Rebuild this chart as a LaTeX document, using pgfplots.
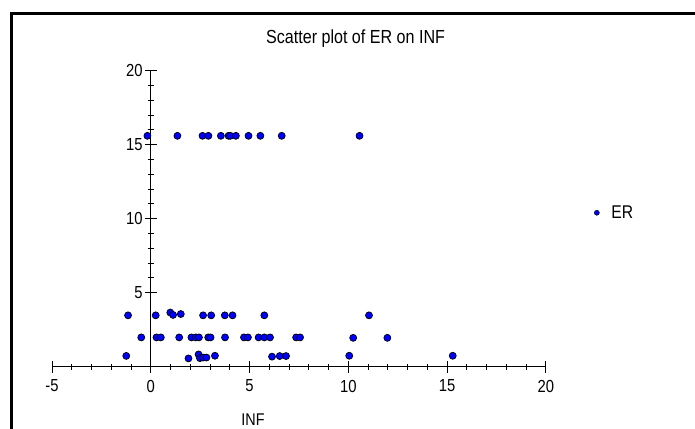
\documentclass[border=0pt]{standalone}
\usepackage{fontspec}
\setmainfont{Liberation Sans}[FakeStretch=0.85]
\usepackage{pgfplots}
\pgfplotsset{compat=1.18}

% ER against INF
\pgfplotstableread{
x y
-0.17 15.6
1.35 15.6
2.62 15.6
2.92 15.6
3.55 15.6
3.94 15.6
4.03 15.6
4.31 15.6
4.95 15.6
5.55 15.6
6.63 15.6
10.57 15.6
-1.15 3.47
0.25 3.47
0.99 3.66
1.13 3.50
1.52 3.56
2.65 3.47
3.06 3.47
3.75 3.47
4.14 3.47
5.75 3.47
11.05 3.47
-0.48 1.98
0.29 1.98
0.51 1.98
1.44 1.98
2.06 1.98
2.28 1.98
2.44 1.98
2.91 1.98
3.03 1.98
3.76 1.98
4.72 1.98
4.92 1.98
5.46 1.98
5.75 1.98
6.04 1.98
7.36 1.98
7.56 1.98
10.25 1.95
11.98 1.95
-1.24 0.73
1.91 0.56
2.42 0.83
2.49 0.58
2.65 0.62
2.82 0.62
3.25 0.74
6.14 0.68
6.53 0.72
6.85 0.72
10.05 0.74
15.29 0.74
}\erdata

\begin{document}
\begin{tikzpicture}[x=1bp,y=1bp]
\useasboundingbox (-52,-61.3) rectangle (643,366.7);
% outer frame (runs off the right and bottom edges)
\draw[line width=3bp] (-40.5,-80) -- (-40.5,353.7) -- (660,353.7);
\begin{axis}[
  at={(0,0)}, anchor=south west,
  x=19.75bp, y=14.8bp,
  xmin=-5, xmax=20, ymin=0, ymax=20,
  axis lines=middle,
  axis line style={line width=1.2bp, -},
  hide obscured x ticks=false,
  xtick={-5,0,...,20}, ytick={5,10,15,20},
  minor tick num=4,
  tick align=center,
  major tick length=12bp, minor tick length=6bp,
  every tick/.style={line width=1bp, black},
  /pgf/number format/assume math mode=true,
  tick label style={font=\fontsize{17.5}{17.5}\selectfont, inner sep=0pt},
  xticklabel style={anchor=north, yshift=-7bp},
  yticklabel style={anchor=east, xshift=-2bp},
  title={Scatter plot of ER on INF},
  title style={at={(axis cs:10.37,21.75)}, anchor=center, inner sep=0pt,
    font=\fontsize{19}{19}\selectfont},
  xlabel={INF},
  xlabel style={at={(axis cs:5.18,0)}, anchor=base, yshift=-58.5bp, inner sep=0pt,
    font=\fontsize{17}{17}\selectfont},
  legend style={at={(axis cs:22.45,10.4)}, anchor=west, draw=none, fill=none,
    inner sep=0pt, font=\fontsize{18.5}{18.5}\selectfont,
    nodes={inner sep=2bp}, column sep=10bp},
  legend image code/.code={
    \draw[mark size=2.5bp, mark=*, mark options={fill=blue, draw=black, line width=0.5bp}]
      plot coordinates {(0,0)};},
  clip=false,
]
\addplot[only marks, mark=*, mark size=3.5bp,
  mark options={fill=blue, draw=black, line width=0.7bp}] table {\erdata};
\addlegendentry{ER}
\end{axis}
\end{tikzpicture}
\end{document}
